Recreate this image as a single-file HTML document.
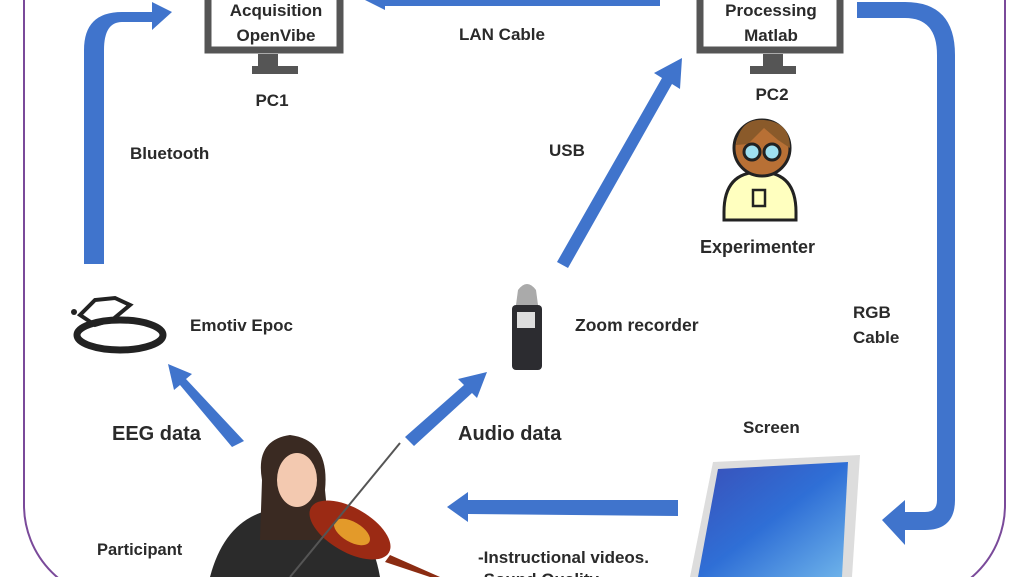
<!DOCTYPE html>
<html><head><meta charset="utf-8"><style>
html,body{margin:0;padding:0;background:#fff;}
svg{display:block;}
text{font-family:"Liberation Sans",sans-serif;font-weight:bold;fill:#2a2a2a;}
</style></head><body>
<svg width="1028" height="577" viewBox="0 0 1028 577" xmlns="http://www.w3.org/2000/svg">
<defs>
<linearGradient id="scr" x1="0" y1="0" x2="1" y2="1"><stop offset="0" stop-color="#3a4fb8"/><stop offset="0.5" stop-color="#2f6fd6"/><stop offset="1" stop-color="#6fb4ea"/></linearGradient>
</defs>
<rect x="24" y="-120" width="981" height="720" rx="95" fill="none" stroke="#7a4a9a" stroke-width="2"/>

<rect x="208" y="-20" width="132" height="70" fill="#fff" stroke="#555" stroke-width="7"/>
<rect x="258" y="54" width="20" height="14" fill="#555"/>
<rect x="252" y="66" width="46" height="8" fill="#555"/>
<text x="276" y="16" font-size="17" text-anchor="middle">Acquisition</text>
<text x="276" y="41" font-size="17" text-anchor="middle">OpenVibe</text>
<text x="272" y="106" font-size="17" text-anchor="middle">PC1</text>

<rect x="700" y="-20" width="140" height="70" fill="#fff" stroke="#555" stroke-width="7"/>
<rect x="763" y="54" width="20" height="14" fill="#555"/>
<rect x="750" y="66" width="46" height="8" fill="#555"/>
<text x="771" y="16" font-size="17" text-anchor="middle">Processing</text>
<text x="771" y="41" font-size="17" text-anchor="middle">Matlab</text>
<text x="772" y="100" font-size="17" text-anchor="middle">PC2</text>

<g fill="#4074cc">
<path d="M84 264 L84 50 Q84 12 122 12 L152 12 L152 2 L172 12 L152 30 L152 22 L122 22 Q104 22 104 50 L104 264 Z"/>
<path d="M660 -6 L385 -6 L385 -12 L365 0 L385 10 L385 6 L660 6 Z"/>
<path d="M857 2 L905 2 Q955 2 955 55 L955 500 Q955 530 925 530 L905 530 L905 545 L882 520 L905 500 L905 512 L925 512 Q937 512 937 500 L937 55 Q937 18 905 18 L857 18 Z"/>
<path d="M557 262 L662 78 L654 73 L682 58 L680 89 L672 84 L568 268 Z"/>
<path d="M232 447 L180 385 L174 390 L168 364 L192 374 L186 379 L244 441 Z"/>
<path d="M405 437 L464 385 L458 379 L487 372 L477 398 L472 393 L414 446 Z"/>
<path d="M678 500 L468 500 L468 492 L447 507 L468 522 L468 514 L678 516 Z"/>
</g>

<text x="130" y="159" font-size="17">Bluetooth</text>
<text x="459" y="40" font-size="17">LAN Cable</text>
<text x="549" y="156" font-size="17">USB</text>
<text x="700" y="253" font-size="18">Experimenter</text>
<text x="190" y="331" font-size="17">Emotiv Epoc</text>
<text x="575" y="331" font-size="17.5">Zoom recorder</text>
<text x="853" y="318" font-size="17">RGB</text>
<text x="853" y="343" font-size="17">Cable</text>
<text x="112" y="440" font-size="20">EEG data</text>
<text x="458" y="440" font-size="20">Audio data</text>
<text x="743" y="433" font-size="17">Screen</text>
<text x="97" y="555" font-size="16.5">Participant</text>
<text x="478" y="563" font-size="17">-Instructional videos.</text>
<text x="478" y="585" font-size="17">-Sound Quality</text>

<path d="M724 212 Q724 172 760 172 Q796 172 796 212 L796 220 L724 220 Z" fill="#ffffbf" stroke="#222" stroke-width="3"/>
<circle cx="762" cy="148" r="28" fill="#b87035" stroke="#222" stroke-width="3"/>
<path d="M736 145 Q740 118 764 120 Q790 122 790 148 L778 140 L764 128 L748 144 Z" fill="#8a5a2a"/>
<circle cx="752" cy="152" r="8" fill="#9fe0f0" stroke="#222" stroke-width="3"/>
<circle cx="772" cy="152" r="8" fill="#9fe0f0" stroke="#222" stroke-width="3"/>
<rect x="753" y="190" width="12" height="16" fill="none" stroke="#222" stroke-width="2.5"/>

<ellipse cx="120" cy="335" rx="43" ry="15" fill="none" stroke="#222" stroke-width="7"/>
<path d="M80 315 L95 300 L115 298 L130 305 L112 320 L95 325 Z" fill="none" stroke="#222" stroke-width="4"/>
<circle cx="74" cy="312" r="3" fill="#222"/>

<rect x="512" y="305" width="30" height="65" rx="4" fill="#2c2c30"/>
<rect x="517" y="312" width="18" height="16" fill="#ddd"/>
<path d="M518 290 Q527 278 536 290 L538 305 L516 305 Z" fill="#aaa"/>

<path d="M713 462 L860 455 L852 577 L690 577 Z" fill="#ddd"/>
<path d="M718 469 L848 462 L842 577 L698 577 Z" fill="url(#scr)"/>

<path d="M210 577 Q225 520 270 510 L330 510 Q370 520 380 577 Z" fill="#2b2b2b"/>
<path d="M262 480 Q255 440 290 435 Q330 440 325 490 L330 540 L260 540 Z" fill="#3a2a22"/>
<ellipse cx="297" cy="480" rx="20" ry="27" fill="#f3c9b0"/>
<ellipse cx="350" cy="530" rx="45" ry="22" fill="#9b2a14" transform="rotate(30 350 530)"/>
<ellipse cx="352" cy="532" rx="20" ry="10" fill="#e39a2a" transform="rotate(30 352 532)"/>
<line x1="400" y1="443" x2="290" y2="577" stroke="#555" stroke-width="2"/>
<path d="M390 555 L440 577 L430 577 L385 562 Z" fill="#8b2c12"/>
</svg>
</body></html>
